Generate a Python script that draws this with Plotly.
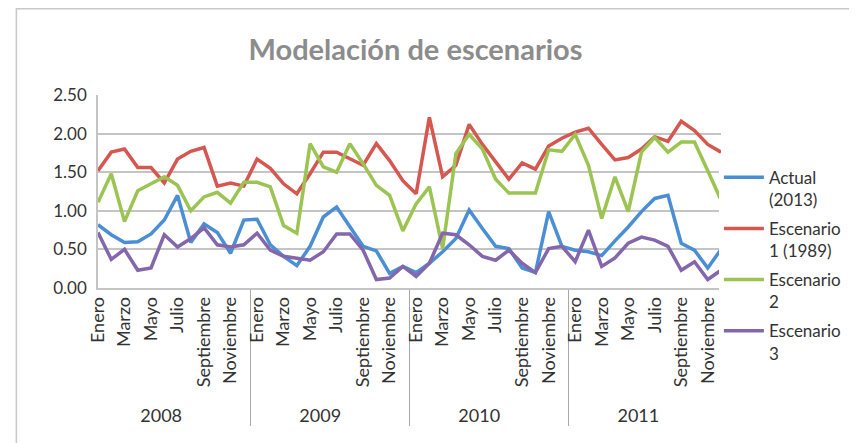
import plotly.graph_objects as go

years = ["2008", "2009", "2010", "2011"]
months = ["Enero", "Febrero", "Marzo", "Abril", "Mayo", "Junio",
          "Julio", "Agosto", "Septiembre", "Octubre", "Noviembre", "Diciembre"]

actual = [0.82, 0.69, 0.59, 0.60, 0.70, 0.88, 1.20, 0.59, 0.83, 0.72, 0.45, 0.88,
          0.89, 0.56, 0.41, 0.29, 0.54, 0.92, 1.05, 0.79, 0.54, 0.48, 0.19, 0.28,
          0.20, 0.32, 0.47, 0.64, 1.01, 0.77, 0.54, 0.51, 0.26, 0.20, 0.99, 0.54,
          0.49, 0.47, 0.42, 0.61, 0.79, 0.99, 1.16, 1.20, 0.58, 0.49, 0.26, 0.50]
escenario1 = [1.52, 1.76, 1.80, 1.56, 1.56, 1.36, 1.67, 1.77, 1.82, 1.32, 1.36, 1.32,
              1.67, 1.55, 1.35, 1.22, 1.48, 1.76, 1.76, 1.68, 1.59, 1.87, 1.65, 1.39,
              1.22, 2.21, 1.44, 1.59, 2.12, 1.86, 1.63, 1.41, 1.62, 1.54, 1.84, 1.94,
              2.02, 2.07, 1.86, 1.66, 1.69, 1.80, 1.96, 1.90, 2.16, 2.04, 1.86, 1.76]
escenario2 = [1.11, 1.48, 0.86, 1.26, 1.35, 1.44, 1.33, 1.00, 1.18, 1.24, 1.10, 1.37,
              1.37, 1.31, 0.81, 0.71, 1.87, 1.57, 1.50, 1.87, 1.61, 1.33, 1.20, 0.74,
              1.09, 1.31, 0.51, 1.74, 1.99, 1.80, 1.41, 1.23, 1.23, 1.23, 1.79, 1.77,
              1.99, 1.59, 0.90, 1.44, 0.99, 1.76, 1.95, 1.76, 1.89, 1.89, 1.52, 1.14]
escenario3 = [0.72, 0.37, 0.50, 0.23, 0.26, 0.69, 0.53, 0.64, 0.78, 0.56, 0.53, 0.56,
              0.71, 0.49, 0.41, 0.39, 0.36, 0.47, 0.70, 0.70, 0.49, 0.11, 0.13, 0.28,
              0.15, 0.32, 0.71, 0.69, 0.56, 0.41, 0.36, 0.49, 0.32, 0.20, 0.51, 0.54,
              0.34, 0.75, 0.28, 0.39, 0.58, 0.66, 0.62, 0.54, 0.23, 0.34, 0.11, 0.23]

names = ["Actual<br>(2013)", "Escenario<br>1 (1989)", "Escenario<br>2", "Escenario<br>3"]
colors = ["#4A8FD4", "#D6574F", "#9BC452", "#8366AC"]

# Excel only labels every other month; hidden months get unique blank labels
month_labels = [m if i % 2 == 0 else " " * (i // 2 + 1) for i, m in enumerate(months)]
x = [[y for y in years for _ in months], [m for _ in years for m in month_labels]]

font = "Lato, 'Open Sans', sans-serif"

fig = go.Figure()
for i, (name, vals, col) in enumerate(zip(names, [actual, escenario1, escenario2, escenario3], colors)):
    fig.add_trace(go.Scatter(x=x, y=vals, name=name, mode="lines", legendgroup=str(i),
                             line=dict(color=col, width=3.5)))

# page body has an 8px margin, so the figure is 8px smaller than the window
fig.update_layout(
    width=849, height=435,
    margin=dict(l=90, r=135, t=87, b=155),
    paper_bgcolor="white", plot_bgcolor="white",
    font=dict(family=font, size=17, color="#333333"),
    title=dict(text="<b>Modelación de escenarios</b>", x=0.48, xref="container",
               y=0.903, yref="container", yanchor="middle", xanchor="center",
               font=dict(size=29, color="#8C8C8C")),
    legend=dict(x=0.995, xanchor="left", y=0.665, yanchor="top",
                font=dict(size=17, color="#333333"), valign="top",
                traceorder="grouped", tracegroupgap=4, maxheight=400,
                itemwidth=40),
    showlegend=True,
)
fig.update_yaxes(range=[0, 2.5], dtick=0.5, tickformat=".2f",
                 showgrid=True, gridcolor="#C4C4C4", gridwidth=1.5,
                 showline=True, linecolor="#C4C4C4", linewidth=1.5,
                 zeroline=False, ticks="", ticklabelstandoff=6)
fig.update_xaxes(type="multicategory", tickangle=-90, tickfont=dict(size=18),
                 showline=True, linecolor="#C4C4C4", linewidth=1.5,
                 showdividers=True, dividercolor="#A8A8A8", dividerwidth=1,
                 showgrid=False, ticks="", automargin=False)

fig.add_shape(type="rect", xref="paper", yref="paper",
              x0=-0.131, x1=1.3, y0=-1.0, y1=1.447,
              line=dict(color="#C8C8C8", width=1.5), layer="below")

fig.write_html("out.html")
